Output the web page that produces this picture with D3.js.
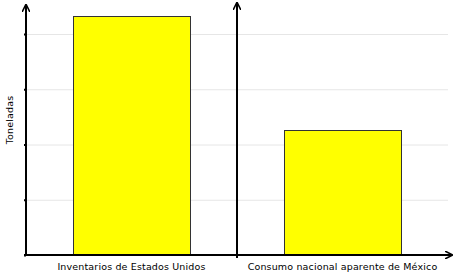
<!DOCTYPE html>
<html>
<head>
<meta charset="utf-8">
<script src="https://cdn.jsdelivr.net/npm/d3@7"></script>
<style>
  body { margin: 0; background: #fff; }
  text { font-family: "DejaVu Sans", Verdana, sans-serif; }
</style>
</head>
<body>
<svg width="454" height="277"></svg>
<script>
const categories = ['Inventarios de Estados Unidos', 'Consumo nacional aparente de México'];
const values = [4.33, 2.27];
const yTicks = [0, 1, 2, 3, 4];

const svg = d3.select('svg'),
  plotLeft = 26,
  plotRight = 448,
  plotTop = 5,
  plotBottom = 255;

const xScale = d3.scaleBand().domain(categories).range([plotLeft, plotRight])
    .paddingInner(0.445).paddingOuter(0.2225),
  yScale = d3.scaleLinear().domain([0, 4]).range([plotBottom, 34]);

// gridlines
svg.append('g')
  .selectAll('line')
  .data(yTicks.slice(1))
  .enter()
  .append('line')
  .attr('x1', plotLeft)
  .attr('x2', plotRight)
  .attr('y1', (d) => yScale(d) + 0.5)
  .attr('y2', (d) => yScale(d) + 0.5)
  .attr('stroke', '#e6e6e6')
  .attr('stroke-width', 1);

// bars
svg.selectAll('.bar')
  .data(values)
  .enter()
  .append('rect')
  .attr('class', 'bar')
  .attr('x', (d, i) => Math.round(xScale(categories[i])) + 0.5)
  .attr('y', (d) => Math.round(yScale(d)) + 0.5)
  .attr('width', Math.round(xScale.bandwidth()))
  .attr('height', (d) => plotBottom - Math.round(yScale(d)))
  .attr('fill', '#ffff00')
  .attr('stroke', '#333')
  .attr('stroke-width', 1);

// arrow marker
svg.append('defs')
  .append('marker')
  .attr('id', 'arrow')
  .attr('viewBox', '0 0 10 10')
  .attr('refX', 9)
  .attr('refY', 5)
  .attr('markerWidth', 4)
  .attr('markerHeight', 4)
  .attr('markerUnits', 'strokeWidth')
  .attr('orient', 'auto')
  .append('path')
  .attr('d', 'M0,0 L10,5 L0,10')
  .attr('fill', 'none')
  .attr('stroke', '#000')
  .attr('stroke-width', 2);

// y axis ticks
const yAxis = d3.axisLeft(yScale).tickValues(yTicks).tickSize(2).tickFormat('');
const gy = svg.append('g').attr('transform', `translate(${plotLeft},0)`).call(yAxis);
gy.select('.domain').remove();
gy.selectAll('.tick line').attr('stroke', '#000').attr('stroke-width', 2);

// vertical axis lines
const axisXs = [plotLeft, Math.round(xScale.step()) + plotLeft];
axisXs.forEach((x, i) => {
  svg.append('line')
    .attr('x1', x)
    .attr('x2', x)
    .attr('y1', plotBottom + (i ? 3 : 1))
    .attr('y2', i ? 3 : plotTop)
    .attr('stroke', '#000')
    .attr('stroke-width', 2)
    .attr('marker-end', 'url(#arrow)');
});

// x axis
svg.append('line')
  .attr('x1', plotLeft - 2)
  .attr('x2', 452)
  .attr('y1', plotBottom)
  .attr('y2', plotBottom)
  .attr('stroke', '#000')
  .attr('stroke-width', 2)
  .attr('marker-end', 'url(#arrow)');

// category labels
svg.selectAll('.cat')
  .data(categories)
  .enter()
  .append('text')
  .attr('class', 'cat')
  .attr('x', (d) => xScale(d) + xScale.bandwidth() / 2)
  .attr('y', 270)
  .attr('text-anchor', 'middle')
  .attr('font-size', '9.5px')
  .attr('letter-spacing', '0.15px')
  .attr('fill', '#000')
  .text((d) => d);

// y label
svg.append('text')
  .attr('transform', 'translate(13,120) rotate(-90)')
  .attr('text-anchor', 'middle')
  .attr('font-size', '9.5px')
  .attr('letter-spacing', '0.15px')
  .attr('fill', '#000')
  .text('Toneladas');
</script>
</body>
</html>
